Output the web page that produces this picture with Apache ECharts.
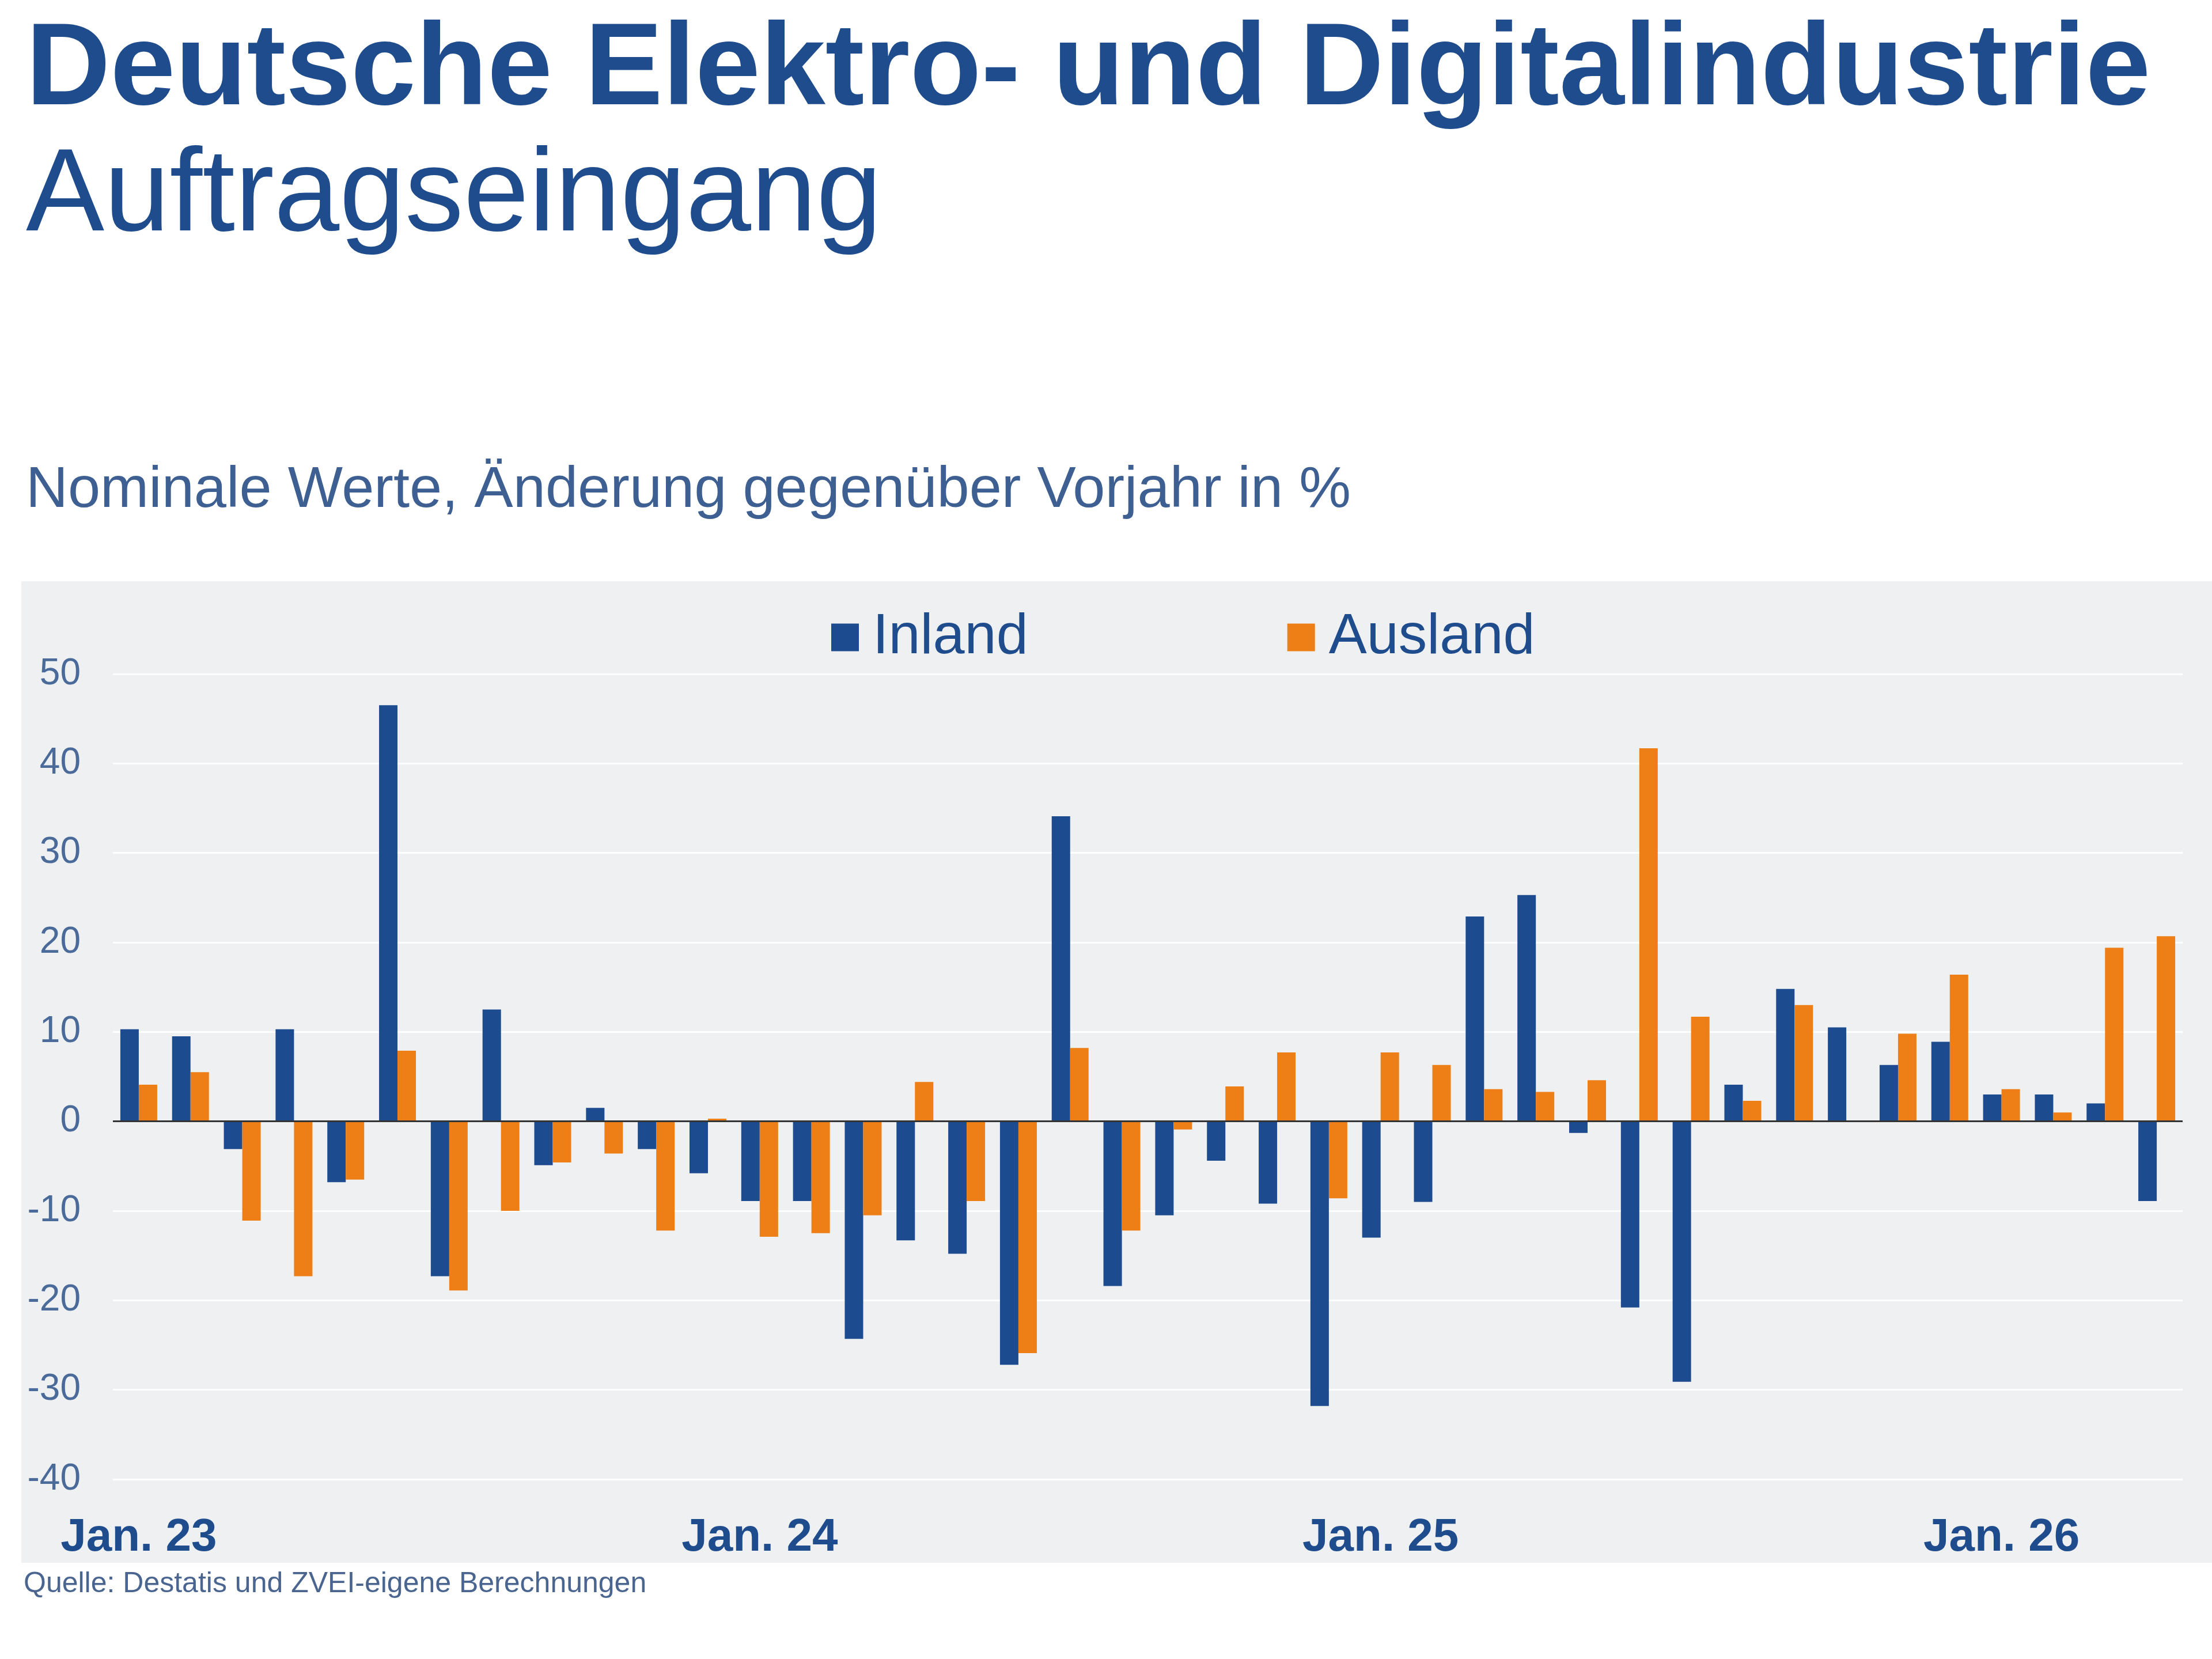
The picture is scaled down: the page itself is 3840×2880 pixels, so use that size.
<!DOCTYPE html>
<html>
<head>
<meta charset="utf-8">
<script src="https://cdn.jsdelivr.net/npm/echarts@6/dist/echarts.min.js"></script>
<style>
html,body{margin:0;padding:0;background:#ffffff;}
#chart{width:3840px;height:2880px;}
</style>
</head>
<body>
<div id="chart"></div>
<script>
var months = ['Jan.', 'Feb.', 'Mär.', 'Apr.', 'Mai', 'Jun.', 'Jul.', 'Aug.', 'Sep.', 'Okt.', 'Nov.', 'Dez.'];
var years = ['23', '24', '25', '26'];
var categories = [];
for (var y = 0; y < years.length; y++) {
  for (var m = 0; m < months.length; m++) {
    if (y === 3 && m > 3) break;
    categories.push(months[m] + ' ' + years[y]);
  }
}

var inland = [10.3, 9.5, -3.1, 10.3, -6.8, 46.5, -17.3, 12.5, -4.9, 1.5, -3.1, -5.8,
  -8.9, -8.9, -24.3, -13.3, -14.8, -27.2, 34.1, -18.4, -10.5, -4.4, -9.2, -31.8,
  -13.0, -9.0, 22.9, 25.3, -1.3, -20.8, -29.1, 4.1, 14.8, 10.5, 6.3, 8.9,
  3.0, 3.0, 2.0, -8.9];
var ausland = [4.1, 5.5, -11.1, -17.3, -6.5, 7.9, -18.9, -10.0, -4.6, -3.6, -12.2, 0.3,
  -12.9, -12.5, -10.5, 4.4, -8.9, -25.9, 8.2, -12.2, -0.9, 3.9, 7.7, -8.6,
  7.7, 6.3, 3.6, 3.3, 4.6, 41.7, 11.7, 2.3, 13.0, 0, 9.8, 16.4,
  3.6, 1.0, 19.4, 20.7];

var seriesNames = ['Inland', 'Ausland'];
var titleText = 'Deutsche Elektro- und Digitalindustrie';
var titleText2 = 'Auftragseingang';
var subtitleText = 'Nominale Werte, Änderung gegenüber Vorjahr in %';
var sourceText = 'Quelle: Destatis und ZVEI-eigene Berechnungen';

var FONT = '"Liberation Sans", Arial, sans-serif';
var chart = echarts.init(document.getElementById('chart'), null, {renderer: 'canvas'});

chart.setOption({
  backgroundColor: '#ffffff',
  animation: false,
  title: [
    {text: titleText, left: 40, top: 19, textStyle: {fontFamily: FONT, fontSize: 203, fontWeight: 'bold', color: '#1f4c8c', lineHeight: 203}},
    {text: titleText2, left: 40, top: 237, textStyle: {fontFamily: FONT, fontSize: 204, fontWeight: 'normal', color: '#1f4c8c', lineHeight: 204}},
    {text: subtitleText, left: 40, top: 797, textStyle: {fontFamily: FONT, fontSize: 101, fontWeight: 'normal', color: '#3d5f92', lineHeight: 101}},
    {text: sourceText, left: 36, top: 2720, textStyle: {fontFamily: FONT, fontSize: 50, fontWeight: 'normal', color: '#4a6590', lineHeight: 50}}
  ],
  graphic: [
    {type: 'rect', z: -10, silent: true, shape: {x: 37, y: 1009, width: 3803, height: 1704}, style: {fill: '#eef0f2'}}
  ],
  legend: {
    data: seriesNames,
    left: 1438,
    top: 1052,
    icon: 'rect',
    itemWidth: 48,
    itemHeight: 48,
    itemGap: 450,
    textStyle: {fontFamily: FONT, fontSize: 99, lineHeight: 96, color: '#1f4c8c', padding: [0, 0, 0, 19]}
  },
  grid: {left: 196, right: 51, top: 1170, bottom: 312, containLabel: false},
  xAxis: {
    type: 'category',
    data: categories,
    axisLine: {show: false, onZero: false},
    axisTick: {show: false},
    axisLabel: {
      interval: 11,
      margin: 62,
      fontFamily: FONT,
      fontSize: 80,
      fontWeight: 'bold',
      color: '#1f4c8c'
    },
    splitLine: {show: false}
  },
  yAxis: {
    type: 'value',
    min: -40,
    max: 50,
    interval: 10,
    axisLine: {show: false},
    axisTick: {show: false},
    axisLabel: {margin: 56, fontFamily: FONT, fontSize: 64, color: '#4a6a9a'},
    splitLine: {show: true, lineStyle: {color: '#ffffff', width: 3}}
  },
  series: [
    {
      name: seriesNames[0],
      type: 'bar',
      data: inland,
      barWidth: 32,
      barGap: '0%',
      itemStyle: {color: '#1d4b8f'},
      markLine: {
        silent: true,
        symbol: 'none',
        label: {show: false},
        lineStyle: {color: '#333333', width: 3, type: 'solid'},
        data: [{yAxis: 0}],
        z: 10
      }
    },
    {
      name: seriesNames[1],
      type: 'bar',
      data: ausland,
      barWidth: 32,
      barGap: '0%',
      itemStyle: {color: '#ee7f16'}
    }
  ]
});
</script>
</body>
</html>
